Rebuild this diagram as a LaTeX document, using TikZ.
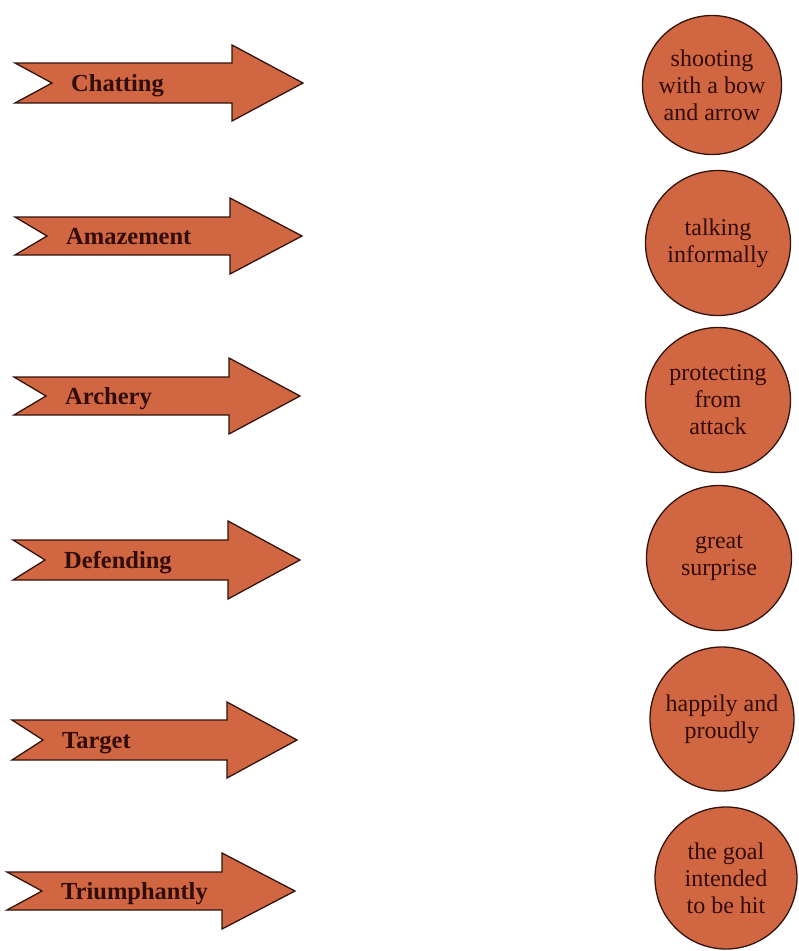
\documentclass[tikz,border=0pt]{standalone}
\usepackage{fontspec}
\setmainfont{Liberation Serif}
\definecolor{fillor}{RGB}{209,102,66}
\definecolor{edgebr}{RGB}{50,20,12}
\definecolor{txtbr}{RGB}{50,12,8}
\tikzset{
  bannershape/.style={fill=fillor, draw=edgebr, line width=1.3pt, line join=miter},
  bannerlabel/.style={anchor=base west, inner sep=0pt, text=txtbr, font=\fontsize{24.5}{28}\selectfont\bfseries},
  meaningdisc/.style={circle, fill=fillor, draw=edgebr, line width=1.3pt, inner sep=0pt, align=center, text=txtbr, font=\fontsize{24}{27}\selectfont}
}
% name, left, notch, headx, tip, cy, bodyhalf, headhalf, label
\newcommand\bannerarrow[9]{%
  \draw[bannershape] (#2,#6-#7) -- (#4,#6-#7) -- (#4,#6-#8) -- (#5,#6) -- (#4,#6+#8) -- (#4,#6+#7) -- (#2,#6+#7) -- (#3,#6) -- cycle;
  \node[bannerlabel] (#1) at (#3+19,#6+8) {#9};
}
\begin{document}
\begin{tikzpicture}[x=1pt,y=-1pt]
\useasboundingbox (0,0) rectangle (799,951);
\bannerarrow{chat}{15}{52}{232}{303}{83}{20}{38}{Chatting}
\bannerarrow{amaze}{15}{47}{230}{302}{236}{19}{38}{Amazement}
\bannerarrow{arch}{14}{46}{229}{300}{396}{19}{38}{Archery}
\bannerarrow{defend}{13}{45}{228}{300}{560}{20}{39}{Defending}
\bannerarrow{target}{12}{43}{227}{297}{740}{20}{38}{Target}
\bannerarrow{triumph}{7}{42}{222}{295}{891}{19}{38}{Triumphantly}

\node[meaningdisc, minimum size=139pt] (m1) at (712,85) {shooting\\with a bow\\and arrow};
\node[meaningdisc, minimum size=145pt] (m2) at (718,243) {talking\\informally};
\node[meaningdisc, minimum size=145pt] (m3) at (718,400) {protecting\\from\\attack};
\node[meaningdisc, minimum size=145pt] (m4) at (719,558) {great\\surprise};
\node[meaningdisc, minimum size=144pt] (m5) at (722,719) {happily and\\proudly};
\node[meaningdisc, minimum size=142pt] (m6) at (726,878) {the goal\\intended\\to be hit};
\end{tikzpicture}
\end{document}
